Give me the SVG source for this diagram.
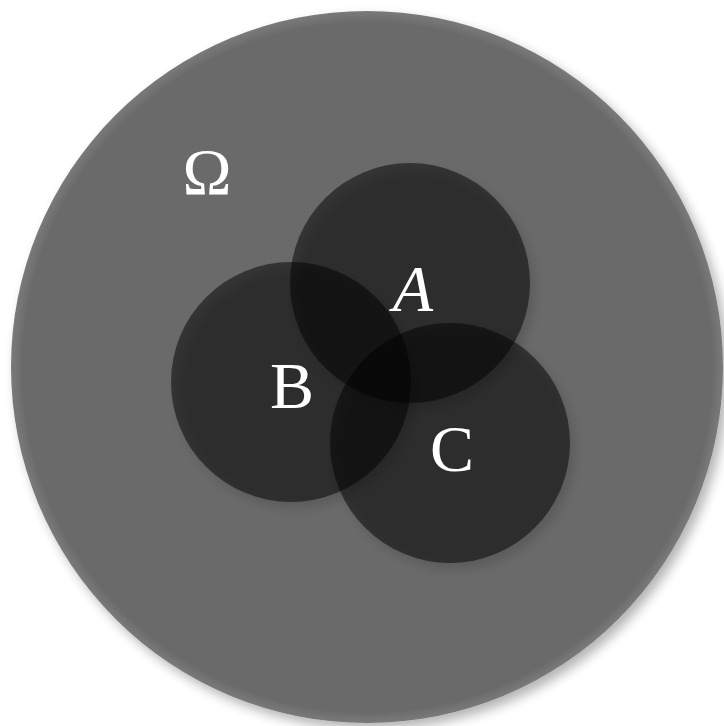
<svg xmlns="http://www.w3.org/2000/svg" width="724" height="726" viewBox="0 0 724 726">
<defs>
<filter id="sh" x="-20%" y="-20%" width="140%" height="140%">
<feGaussianBlur in="SourceAlpha" stdDeviation="6"/>
<feOffset dx="5" dy="6" result="b"/>
<feComponentTransfer><feFuncA type="linear" slope="0.3"/></feComponentTransfer>
<feMerge><feMergeNode/><feMergeNode in="SourceGraphic"/></feMerge>
</filter>
<radialGradient id="rim" cx="0.5" cy="0.5" r="0.5" fx="0.52" fy="0.52">
<stop offset="0.97" stop-color="#6b6b6b"/>
<stop offset="1" stop-color="#7a7a7a"/>
</radialGradient>
<style>
.set{fill:#000;fill-opacity:0.5}
.lbl{fill:#fff;font-family:"Liberation Serif","DejaVu Serif",serif;font-size:66px;text-anchor:middle}
</style>
</defs>
<g id="omega" filter="url(#sh)">
<circle cx="367" cy="367" r="356" fill="url(#rim)"/>
</g>
<g id="A"><circle class="set" cx="410" cy="283" r="120" filter="url(#sh)"/></g>
<g id="B"><circle class="set" cx="291" cy="382" r="120" filter="url(#sh)"/></g>
<g id="C"><circle class="set" cx="450" cy="443" r="120" filter="url(#sh)"/></g>
<g id="labels">
<text class="lbl" x="207" y="194">Ω</text>
<text class="lbl" x="413" y="311" font-style="italic">A</text>
<text class="lbl" x="292" y="408">B</text>
<text class="lbl" x="452" y="471">C</text>
</g>
</svg>
